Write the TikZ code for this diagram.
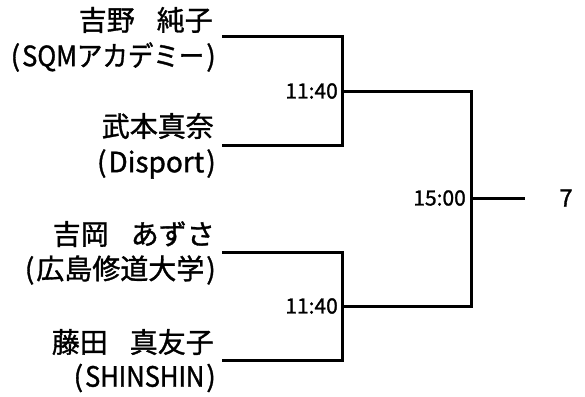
\documentclass[tikz,border=0pt]{standalone}
\usepackage{fontspec}
\setmainfont[FakeBold=1.2]{Noto Sans CJK JP}
\newcommand\opp{(\kern2pt}
\newcommand\clp{\kern2pt)}
\newcommand\gapp{\hspace{22pt}}
\newcommand\narrow[1]{\scalebox{0.91}[1]{#1}}
\begin{document}
\begin{tikzpicture}[x=1pt,y=-1pt,
  bline/.style={line width=3pt},
  pname/.style={anchor=east,inner sep=0pt,font=\fontsize{28}{30}\selectfont},
  pclub/.style={anchor=east,inner sep=0pt,font=\fontsize{28}{30}\selectfont},
  ptime/.style={anchor=east,inner sep=0pt,font=\fontsize{21}{24}\selectfont},
  presult/.style={anchor=center,inner sep=0pt,font=\fontsize{24}{28}\selectfont}]
\useasboundingbox[fill=white] (0,0) rectangle (585,396);
% players
\node[pname] (n1) at (213,20) {吉野\gapp 純子};
\node[pclub] (c1) at (216,57) {\opp\narrow{SQMアカデミー}\clp};
\node[pname] (n2) at (214,126) {武本真奈};
\node[pclub] (c2) at (216,164) {\opp Disport\clp};
\node[pname] (n3) at (215,234) {吉岡\gapp あずさ};
\node[pclub] (c3) at (216,270) {\opp 広島修道大学\clp};
\node[pname] (n4) at (214,342) {藤田\gapp 真友子};
\node[pclub] (c4) at (216,378) {\opp\narrow{SHINSHIN}\clp};
% line ends
\coordinate (a1) at (222,37);
\coordinate (a2) at (222,145);
\coordinate (a3) at (222,252);
\coordinate (a4) at (222,360);
\coordinate (j1) at (342,91);
\coordinate (j2) at (342,306);
\coordinate (f) at (471,198);
\coordinate (e) at (525,198);
% brackets
\draw[bline] (a1) -- (j1 |- a1) -- (j1 |- a2) -- (a2);
\draw[bline] (a3) -- (j2 |- a3) -- (j2 |- a4) -- (a4);
\draw[bline] (j1) -- (f |- j1) -- (f |- j2) -- (j2);
\draw[bline] (f) -- (e);
% times
\node[ptime] (t1) at (338,91) {11:40};
\node[ptime] (t2) at (338,306) {11:40};
\node[ptime] (t3) at (466,198) {15:00};
\node[presult] (r) at (566,198) {7};
\end{tikzpicture}
\end{document}
